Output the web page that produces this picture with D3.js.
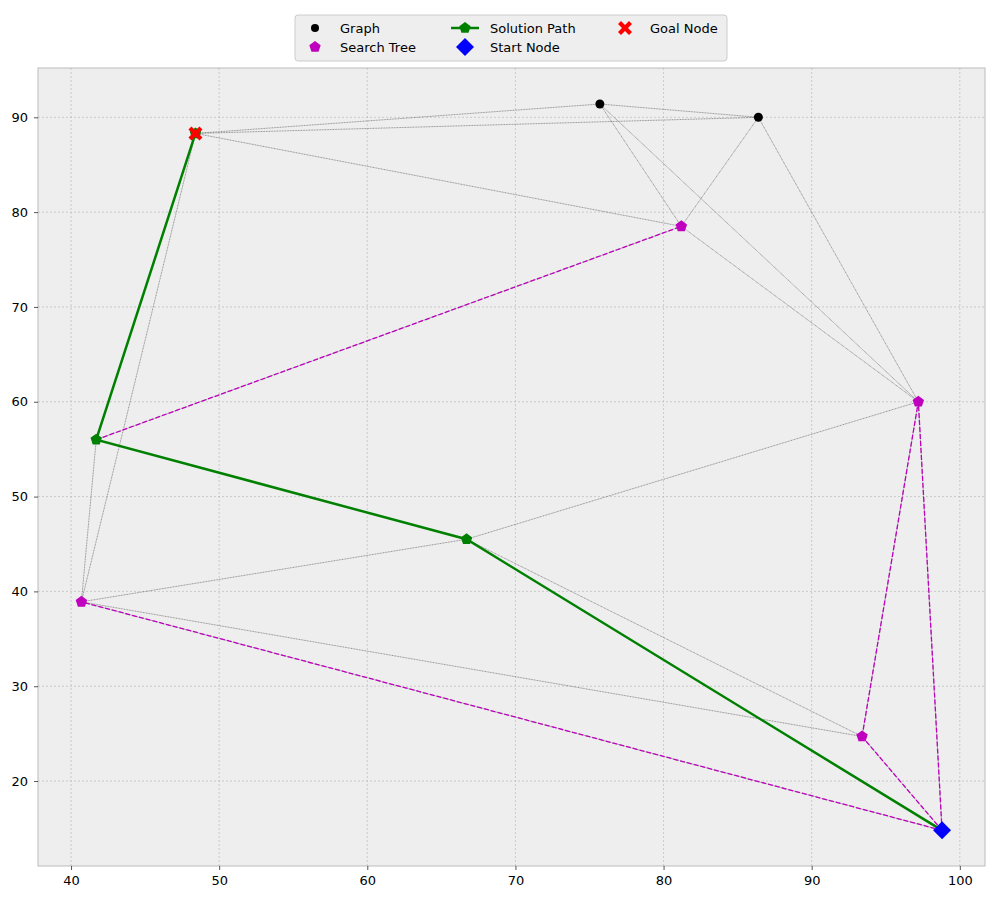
<!DOCTYPE html>
<html><head><meta charset="utf-8">
<script src="https://cdn.jsdelivr.net/npm/d3@7"></script>
<style>body{margin:0;background:#fff;font-family:"DejaVu Sans",sans-serif;}</style>
</head><body>
<script>
// Node positions
const nodeNames = ["A","B","Goal","C","D","E","F","G","H","Start"];
const nodeX = [75.7, 86.4, 48.4, 81.2, 97.2, 41.7, 66.7, 40.7, 93.4, 98.8];
const nodeY = [91.4, 90.0, 88.3, 78.5, 60.0, 56.0, 45.5, 38.9, 24.7, 14.8];

const graphEdges = [["Goal","A"],["Goal","B"],["A","B"],["A","C"],["A","D"],["B","C"],["B","D"],
  ["Goal","C"],["C","D"],["Goal","E"],["Goal","G"],["E","G"],["G","F"],["F","D"],["G","H"],
  ["F","H"],["D","H"],["D","Start"],["H","Start"],["G","Start"],["F","Start"],["E","F"],["E","C"]];
const treeEdges = [["Start","D"],["Start","H"],["Start","G"],["H","D"],["E","C"]];
const treeNodes = ["C","D","G","H"];
const solutionPath = ["Start","F","E","Goal"];
const graphNodes = ["A","B"];

const xTicks = [40,50,60,70,80,90,100];
const yTicks = [20,30,40,50,60,70,80,90];

const W = 1000, H = 900;
const m = {l:38, r:15, t:68, b:34};
const pos = {};
nodeNames.forEach((n,i)=>pos[n]=[nodeX[i],nodeY[i]]);

const svg = d3.select("body").append("svg").attr("width",W).attr("height",H);
const x = d3.scaleLinear().domain([37.77,101.7]).range([m.l, W-m.r]);
const y = d3.scaleLinear().domain([11.04,95.2]).range([H-m.b, m.t]);

svg.append("rect").attr("x",m.l).attr("y",m.t).attr("width",W-m.r-m.l).attr("height",H-m.b-m.t)
  .attr("fill","#eeeeee").attr("stroke","#bcbcbc");

// grid
svg.append("g").selectAll("line").data(xTicks).join("line")
  .attr("x1",d=>x(d)).attr("x2",d=>x(d)).attr("y1",m.t).attr("y2",H-m.b)
  .attr("stroke","#b2b2b2").attr("stroke-width",0.6).attr("stroke-dasharray","2,2");
svg.append("g").selectAll("line").data(yTicks).join("line")
  .attr("y1",d=>y(d)).attr("y2",d=>y(d)).attr("x1",m.l).attr("x2",W-m.r)
  .attr("stroke","#b2b2b2").attr("stroke-width",0.6).attr("stroke-dasharray","2,2");

const xa = svg.append("g").attr("transform",`translate(0,${H-m.b})`)
  .call(d3.axisBottom(x).tickValues(xTicks).tickSize(4).tickPadding(6));
const ya = svg.append("g").attr("transform",`translate(${m.l},0)`)
  .call(d3.axisLeft(y).tickValues(yTicks).tickSize(4).tickPadding(6));
[xa,ya].forEach(a=>{a.select(".domain").remove();
  a.selectAll("text").attr("font-size",13).attr("fill","#000").attr("font-family","DejaVu Sans");
  a.selectAll("line").attr("stroke","#555");});

const px = n=>x(pos[n][0]), py = n=>y(pos[n][1]);

svg.append("g").selectAll("line").data(graphEdges).join("line")
  .attr("x1",d=>px(d[0])).attr("y1",d=>py(d[0])).attr("x2",d=>px(d[1])).attr("y2",d=>py(d[1]))
  .attr("stroke","#555").attr("stroke-width",0.6).attr("stroke-dasharray","1,0.6");
svg.append("g").selectAll("line").data(treeEdges).join("line")
  .attr("x1",d=>px(d[0])).attr("y1",d=>py(d[0])).attr("x2",d=>px(d[1])).attr("y2",d=>py(d[1]))
  .attr("stroke","#bf00bf").attr("stroke-width",1.3).attr("stroke-dasharray","5,2");

const pent = d3.symbol().type(d3.symbolStar);
function pentagon(r){const p=[];for(let i=0;i<5;i++){const a=-Math.PI/2+i*2*Math.PI/5;p.push([r*Math.cos(a),r*Math.sin(a)]);}return "M"+p.join("L")+"Z";}

svg.append("g").selectAll("circle").data(graphNodes).join("circle")
  .attr("cx",px).attr("cy",py).attr("r",4.5).attr("fill","#000");
svg.append("g").selectAll("path").data(treeNodes).join("path")
  .attr("transform",d=>`translate(${px(d)},${py(d)})`).attr("d",pentagon(6)).attr("fill","#bf00bf");

svg.append("path").datum(solutionPath)
  .attr("d",d3.line().x(px).y(py)).attr("fill","none").attr("stroke","#008000").attr("stroke-width",2.5);
svg.append("g").selectAll("path").data(solutionPath).join("path")
  .attr("transform",d=>`translate(${px(d)},${py(d)})`).attr("d",pentagon(6)).attr("fill","#008000");

const cross = "M-7,-4L-4,-7L0,-3L4,-7L7,-4L3,0L7,4L4,7L0,3L-4,7L-7,4L-3,0Z";
const diamond = "M0,-9L9,0L0,9L-9,0Z";
svg.append("path").attr("transform",`translate(${px("Start")},${py("Start")})`).attr("d",diamond).attr("fill","#0000ff");
svg.append("path").attr("transform",`translate(${px("Goal")},${py("Goal")})`).attr("d",cross).attr("fill","#ff0000");

// legend
const lg = svg.append("g").attr("transform","translate(295,15)");
lg.append("rect").attr("width",432).attr("height",46).attr("rx",3).attr("fill","#eeeeee").attr("stroke","#cccccc");
const items = [
  {t:"Graph",c:0,r:0,k:"dot"},{t:"Search Tree",c:0,r:1,k:"tree"},
  {t:"Solution Path",c:1,r:0,k:"sol"},{t:"Start Node",c:1,r:1,k:"start"},
  {t:"Goal Node",c:2,r:0,k:"goal"}];
const colX=[20,170,330];
items.forEach(it=>{
  const g = lg.append("g").attr("transform",`translate(${colX[it.c]},${13+it.r*19})`);
  if(it.k==="dot") g.append("circle").attr("r",4).attr("fill","#000");
  if(it.k==="tree") g.append("path").attr("d",pentagon(6)).attr("fill","#bf00bf");
  if(it.k==="sol"){g.append("line").attr("x1",-14).attr("x2",14).attr("stroke","#008000").attr("stroke-width",2.5);
    g.append("path").attr("d",pentagon(6)).attr("fill","#008000");}
  if(it.k==="start") g.append("path").attr("d",diamond).attr("fill","#0000ff");
  if(it.k==="goal") g.append("path").attr("d",cross).attr("fill","#ff0000");
  g.append("text").attr("x",it.c===1?25:25).attr("y",5).attr("font-size",13).text(it.t);
});
</script>
</body></html>
